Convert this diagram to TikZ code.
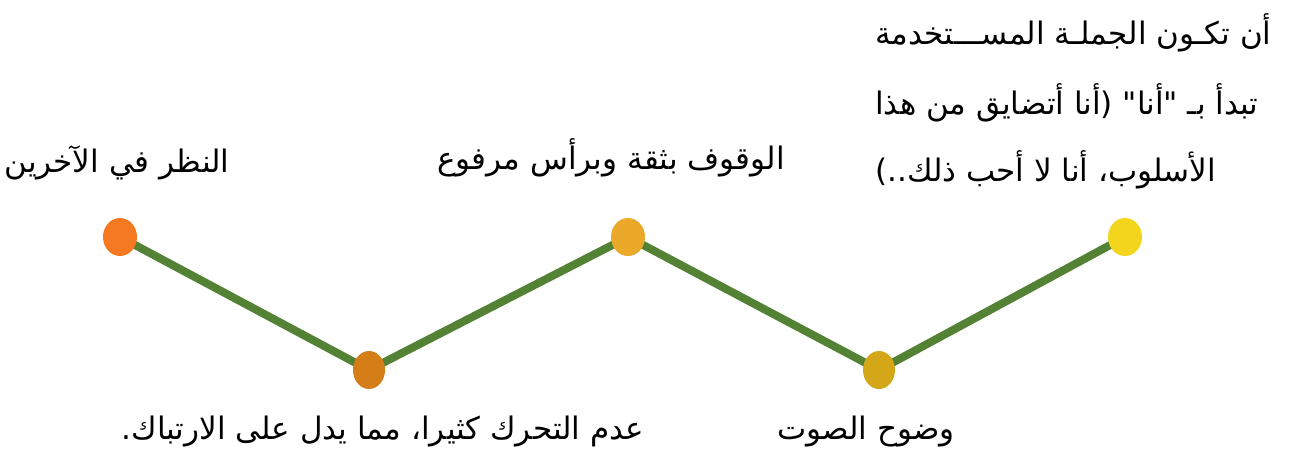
\documentclass[tikz,border=0pt]{standalone}
\usepackage{fontspec}
\setmainfont{DejaVu Sans}
\newfontfamily\arabicfont[Script=Arabic]{DejaVu Sans}
\TeXXeTstate=1
\usetikzlibrary{shapes.geometric,backgrounds}
\definecolor{lineGreen}{HTML}{548235}
\definecolor{cA}{HTML}{F47920}
\definecolor{cB}{HTML}{D57D17}
\definecolor{cC}{HTML}{EBA92A}
\definecolor{cD}{HTML}{D4A718}
\definecolor{cE}{HTML}{F4D51E}
\begin{document}
\begin{tikzpicture}[x=1pt,y=-1pt,
  dot/.style={ellipse, minimum width=34pt, minimum height=38pt, inner sep=0pt, draw=none},
  lowdot/.style={dot, minimum width=32pt},
  link/.style={draw=lineGreen, line width=8pt},
  lbl/.style={font=\fontsize{31}{36}\selectfont\arabicfont, inner sep=0pt, text=black}]
\useasboundingbox (0,0) rectangle (1296,452);
\node[dot, fill=cA] (n1) at (120,237) {};
\node[lowdot, fill=cB] (n2) at (369,370) {};
\node[dot, fill=cC] (n3) at (628,237) {};
\node[lowdot, fill=cD] (n4) at (879,370) {};
\node[dot, fill=cE] (n5) at (1125,237) {};
\begin{scope}[on background layer]
\draw[link] (n1.center) -- (n2.center) -- (n3.center) -- (n4.center) -- (n5.center);
\end{scope}
\node[lbl] (t1) at (117,163) {\beginR النظر في الآخرين\endR};
\node[lbl] (t2) at (383,432) {\beginR عدم التحرك كثيرا، مما يدل على الارتباك.\endR};
\node[lbl] (t3) at (611,158) {\beginR الوقوف بثقة وبرأس مرفوع\endR};
\node[lbl] (t4) at (866,432) {\beginR وضوح الصوت\endR};
\node[lbl, anchor=west] (p1) at (875,33) {\beginR أن تكـون الجملـة المســـتخدمة\endR};
\node[lbl, anchor=west] (p2) at (875,103) {\beginR تبدأ بـ "أنا" (أنا أتضايق من هذا\endR};
\node[lbl, anchor=west] (p3) at (875,170) {\beginR الأسلوب، أنا لا أحب ذلك..)\endR};
\end{tikzpicture}
\end{document}
